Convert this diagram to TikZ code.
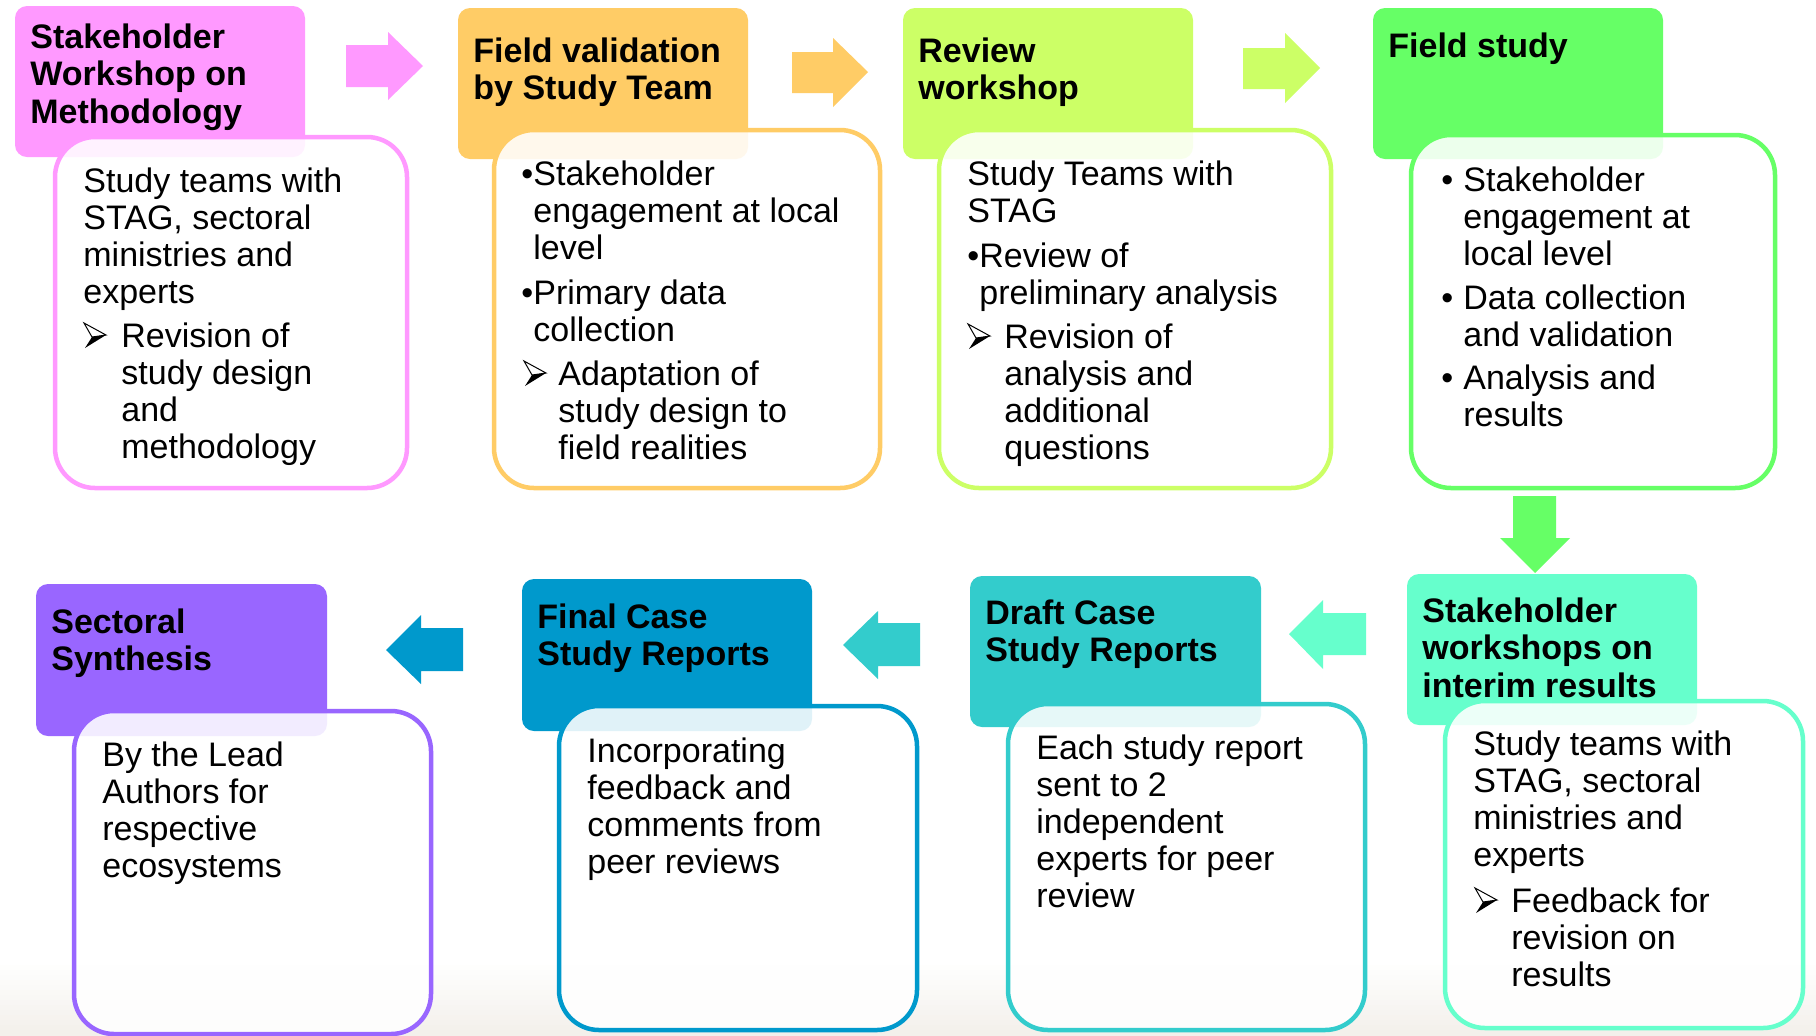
\documentclass[tikz,border=0pt]{standalone}
\usepackage{fontspec}
\setmainfont{Liberation Sans}
\usetikzlibrary{fit}

\definecolor{cpink}{HTML}{FF99FF}
\definecolor{corange}{HTML}{FFCC66}
\definecolor{clime}{HTML}{CCFF66}
\definecolor{cgreen}{HTML}{66FF66}
\definecolor{cmint}{HTML}{66FFCC}
\definecolor{cteal}{HTML}{33CCCC}
\definecolor{cblue}{HTML}{0099CC}
\definecolor{cpurple}{HTML}{9966FF}
\definecolor{floorcol}{RGB}{243,240,235}

% stacked lines whose reference point is the first baseline
\newcommand\lns[1]{\begin{tabular}[t]{@{}l@{}}#1\end{tabular}}

\tikzset{
  head/.style={fill=#1, draw=none, rounded corners=6pt, inner sep=0pt},
  card/.style={draw=#1, line width=2.25pt, fill=white, fill opacity=0.88,
               rounded corners=20pt, inner sep=0pt},
  ttl/.style={anchor=base west, inner sep=0pt,
              font=\bfseries\fontsize{17}{18.75}\selectfont},
  txt/.style={anchor=base west, inner sep=0pt,
              font=\fontsize{17}{18.5}\selectfont},
  pics/tip/.style={code={
    \draw[line width=0.5pt, fill=white] (0,-24) -- (22,-12) -- (8,-10) -- cycle;
    \fill[black] (8,-10) -- (22,-12) -- (1,1) -- cycle;
  }},
}

\begin{document}
\begin{tikzpicture}[x=0.5pt, y=-0.5pt]
\clip (0,0) rectangle (1816,1035);
\fill[white] (0,0) rectangle (1816,1035);

% soft floor band along the bottom edge
\foreach \i in {0,...,14} {
  \pgfmathsetmacro\p{100*\i/14}
  \fill[floorcol!\p!white] (0,{960+5*\i}) rectangle (1816,{965+5*\i+1});
}

% ---------- title blocks ----------
\node[head=cpink,   fit={(15,6) (305,157)}]    (h1) {};
\node[head=corange, fit={(458,8) (748,159)}]   (h2) {};
\node[head=clime,   fit={(903,8) (1193,159)}]  (h3) {};
\node[head=cgreen,  fit={(1373,8) (1663,159)}] (h4) {};
\node[head=cmint,   fit={(1407,574) (1697,725)}] (h5) {};
\node[head=cteal,   fit={(970,576) (1261,727)}]  (h6) {};
\node[head=cblue,   fit={(522,579) (812,731)}]   (h7) {};
\node[head=cpurple, fit={(36,584) (327,736)}]    (h8) {};

% ---------- description cards ----------
\node[card=cpink,   fit={(55,137) (407,488)}]    (c1) {};
\node[card=corange, fit={(494,130) (880,488)}]   (c2) {};
\node[card=clime,   fit={(939,130) (1331,488)}]  (c3) {};
\node[card=cgreen,  fit={(1411,135) (1775,488)}] (c4) {};
\node[card=cmint,   fit={(1445,701) (1803,1028)}] (c5) {};
\node[card=cteal,   fit={(1008,704) (1365,1030)}] (c6) {};
\node[card=cblue,   fit={(559,706) (917,1030)}]   (c7) {};
\node[card=cpurple, fit={(74,711) (431,1034)}]    (c8) {};

% ---------- titles ----------
\node[ttl] (t1) at (30,48)   {\lns{Stakeholder\\Workshop on\\Methodology}};
\node[ttl] (t2) at (473,62)  {\lns{Field validation\\by Study Team}};
\node[ttl] (t3) at (918,62)  {\lns{Review\\workshop}};
\node[ttl] (t4) at (1388,57) {Field study};
\node[ttl] (t5) at (1422,622) {\lns{Stakeholder\\workshops on\\interim results}};
\node[ttl] (t6) at (985,624) {\lns{Draft Case\\Study Reports}};
\node[ttl] (t7) at (537,628) {\lns{Final Case\\Study Reports}};
\node[ttl] (t8) at (51,633)  {\lns{Sectoral\\Synthesis}};

% ---------- stage 1 ----------
\node[txt] (d1a) at (83,192) {\lns{Study teams with\\STAG, sectoral\\ministries and\\experts}};
\pic at (84,347) {tip};
\node[txt] (d1b) at (121,347) {\lns{Revision of\\study design\\and\\methodology}};

% ---------- stage 2 ----------
\node[txt] (b2a) at (521,185) {•};
\node[txt] (d2a) at (533,185) {\lns{Stakeholder\\engagement at local\\level}};
\node[txt] (b2b) at (521,304) {•};
\node[txt] (d2b) at (533,304) {\lns{Primary data\\collection}};
\pic at (524,385) {tip};
\node[txt] (d2c) at (558,385) {\lns{Adaptation of\\study design to\\field realities}};

% ---------- stage 3 ----------
\node[txt] (d3a) at (967,185) {\lns{Study Teams with\\STAG}};
\node[txt] (b3b) at (967,267) {•};
\node[txt] (d3b) at (979,267) {\lns{Review of\\preliminary analysis}};
\pic at (968,348) {tip};
\node[txt] (d3c) at (1004,348) {\lns{Revision of\\analysis and\\additional\\questions}};

% ---------- stage 4 ----------
\node[txt] (b4a) at (1441,191) {•};
\node[txt] (d4a) at (1463,191) {\lns{Stakeholder\\engagement at\\local level}};
\node[txt] (b4b) at (1441,309) {•};
\node[txt] (d4b) at (1463,309) {\lns{Data collection\\and validation}};
\node[txt] (b4c) at (1441,389) {•};
\node[txt] (d4c) at (1463,389) {\lns{Analysis and\\results}};

% ---------- stage 5 ----------
\node[txt] (d5a) at (1473,755) {\lns{Study teams with\\STAG, sectoral\\ministries and\\experts}};
\pic at (1475,912) {tip};
\node[txt] (d5b) at (1511,912) {\lns{Feedback for\\revision on\\results}};

% ---------- stages 6 to 8 ----------
\node[txt] (d6) at (1036,759) {\lns{Each study report\\sent to 2\\independent\\experts for peer\\review}};
\node[txt] (d7) at (587,762)  {\lns{Incorporating\\feedback and\\comments from\\peer reviews}};
\node[txt] (d8) at (102,766)  {\lns{By the Lead\\Authors for\\respective\\ecosystems}};

% ---------- block arrows between stages ----------
\fill[cpink]   (346,45) -- (388,45) -- (388,32) -- (423,66) -- (388,100) -- (388,87) -- (346,87) -- cycle;
\fill[corange] (792,52) -- (833,52) -- (833,38) -- (868,72) -- (833,107) -- (833,93) -- (792,93) -- cycle;
\fill[clime]   (1243,48) -- (1285,48) -- (1285,33) -- (1320,68) -- (1285,103) -- (1285,89) -- (1243,89) -- cycle;
\fill[cgreen]  (1513,496) -- (1556,496) -- (1556,538) -- (1570,538) -- (1535,573) -- (1500,538) -- (1513,538) -- cycle;
\fill[cmint]   (1366,613) -- (1323,613) -- (1323,600) -- (1289,634) -- (1323,669) -- (1323,655) -- (1366,655) -- cycle;
\fill[cteal]   (920,623) -- (878,623) -- (878,611) -- (843,645) -- (878,679) -- (878,666) -- (920,666) -- cycle;
\fill[cblue]   (463,628) -- (421,628) -- (421,615) -- (386,650) -- (421,684) -- (421,671) -- (463,671) -- cycle;
\end{tikzpicture}
\end{document}
